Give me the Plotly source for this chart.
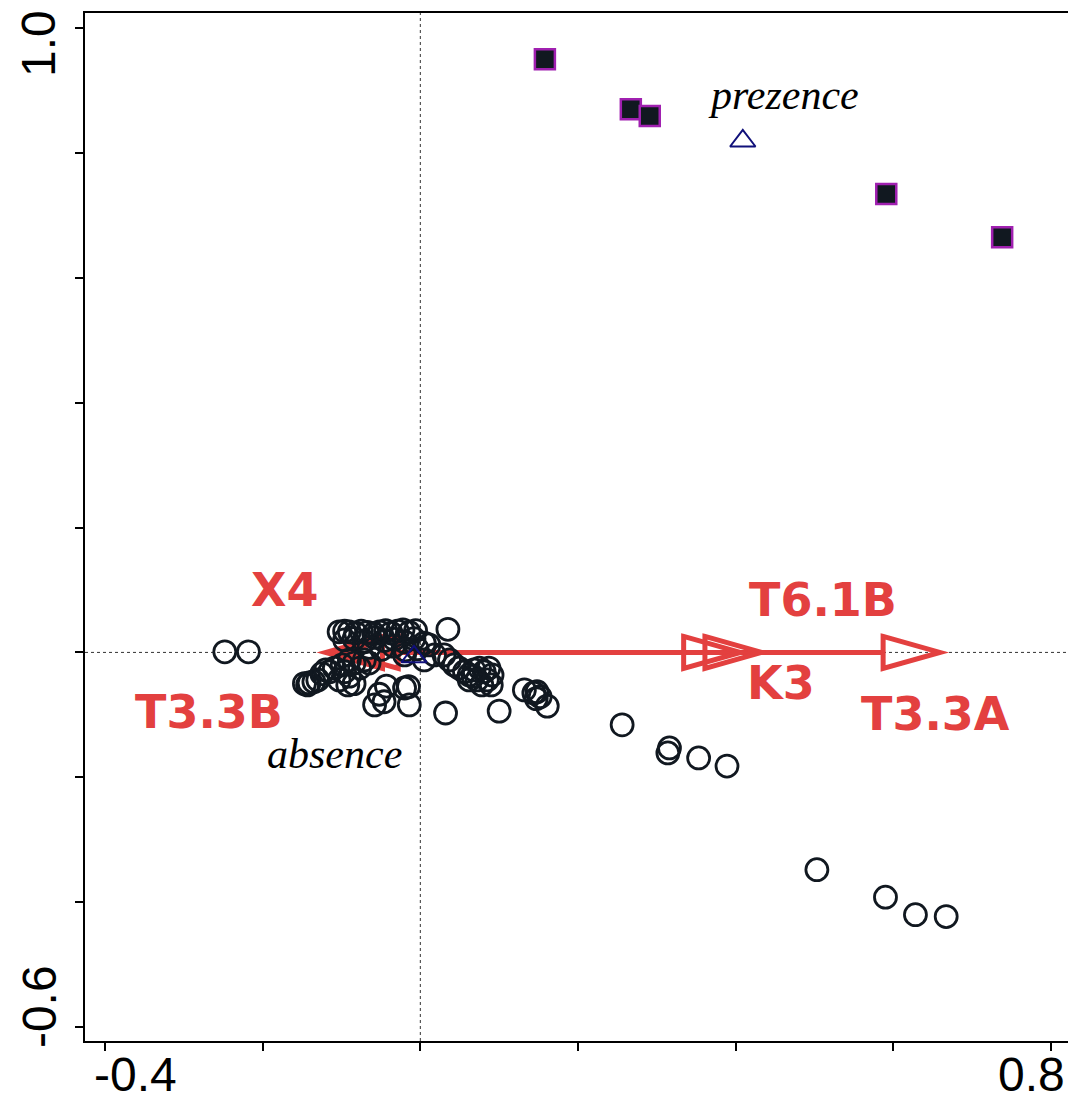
import plotly.graph_objects as go

# ---------------- data ----------------
x_ticks = [-0.4, -0.2, 0.0, 0.2, 0.4, 0.6, 0.8]
y_ticks = [-0.6, -0.4, -0.2, 0.0, 0.2, 0.4, 0.6, 0.8, 1.0]
x_tick_labels = {-0.4: "-0.4", 0.8: "0.8"}
y_tick_labels = {1.0: "1.0", -0.6: "-0.6"}

# sample scores (open circles)
circ_x = [
    -0.248, -0.218, 0.035, 0.032, 0.100, 0.256, 0.316, 0.314, 0.353, 0.389, 0.503, 0.590, 0.628, 0.667,
    0.132, 0.144, 0.148, 0.152, 0.161, 0.147,
    -0.103, -0.096, -0.090, -0.082, -0.075, -0.067, -0.059, -0.052, -0.044, -0.037, -0.029, -0.022, -0.014, -0.006,
    -0.096, -0.084, -0.071, -0.058, -0.046, -0.033, -0.020, -0.008, 0.005,
    -0.065, -0.049, -0.034, -0.019, -0.004, 0.011,
    0.018, 0.030, 0.037, 0.005, -0.020,
    0.043, 0.049, 0.056, 0.062, 0.068, 0.075, 0.081, 0.087, 0.091, 0.085, 0.072, 0.062, 0.078, 0.090, 0.067,
    -0.109, -0.099, -0.090, -0.084, -0.077, -0.096, -0.090, -0.103, -0.084, -0.092, -0.071, -0.065, -0.115,
    -0.147, -0.143, -0.141, -0.135, -0.130, -0.125, -0.120,
    -0.058, -0.052, -0.043, -0.046, -0.020, -0.014, -0.015,
]
circ_y = [
    0.001, 0.001, 0.037, -0.097, -0.094, -0.116, -0.153, -0.161, -0.169, -0.182, -0.348, -0.392, -0.420, -0.423,
    -0.060, -0.065, -0.063, -0.071, -0.086, -0.074,
    0.033, 0.034, 0.033, 0.031, 0.034, 0.032, 0.030, 0.033, 0.035, 0.031, 0.034, 0.036, 0.032, 0.035,
    0.020, 0.022, 0.018, 0.024, 0.019, 0.021, 0.017, 0.022, 0.015,
    0.008, 0.005, 0.010, 0.004, 0.006, 0.012,
    -0.004, -0.004, -0.012, -0.012, -0.004,
    -0.020, -0.025, -0.031, -0.036, -0.028, -0.025, -0.031, -0.025, -0.036, -0.044, -0.044, -0.044, -0.052, -0.052, -0.038,
    -0.025, -0.020, -0.012, -0.017, -0.025, -0.031, -0.038, -0.044, -0.050, -0.052, -0.012, -0.017, -0.031,
    -0.050, -0.052, -0.049, -0.047, -0.044, -0.034, -0.028,
    -0.084, -0.067, -0.054, -0.079, -0.057, -0.084, -0.055,
]

# highlighted samples (filled squares)
sq_x = [0.158, 0.267, 0.291, 0.591, 0.738]
sq_y = [0.950, 0.870, 0.859, 0.734, 0.665]

# centroids of nominal variable
cent_names = ["prezence", "absence"]
cent_x = [0.409, -0.008]
cent_y = [0.819, -0.007]

# environmental arrows (x, y tip coordinates)
arrow_names = ["T3.3A", "T6.1B", "K3", "X4", "T3.3B"]
arrow_x = [0.659, 0.433, 0.406, -0.120, -0.100]
arrow_y = [0.0, 0.0, 0.0, 0.0, 0.0]

# ---------------- style / layout ----------------
RED = "#E3403F"
DARK = "#111820"
X_RANGE = [-0.4253, 0.8253]
Y_RANGE = [-0.6223, 1.0240]
HEAD_LEN = 0.072     # arrowhead length (x units)
HEAD_HW = 0.0256     # arrowhead half width (y units)

arrow_label_pos = {
    "T3.3A": (0.653, -0.099),
    "T6.1B": (0.511, 0.084),
    "K3": (0.458, -0.049),
    "X4": (-0.172, 0.100),
    "T3.3B": (-0.268, -0.095),
}
cent_label_pos = {"prezence": (0.461, 0.893), "absence": (-0.109, -0.163)}

fig = go.Figure()

shapes = []
# zero reference lines
shapes.append(dict(type="line", xref="x", yref="paper", x0=0, x1=0, y0=0, y1=1,
                   line=dict(color="#333333", width=1, dash="dot"), layer="below"))
shapes.append(dict(type="line", xref="paper", yref="y", x0=0, x1=1, y0=0, y1=0,
                   line=dict(color="#333333", width=1, dash="dot"), layer="below"))

for nm, ax, ay in zip(arrow_names, arrow_x, arrow_y):
    sgn = 1 if ax >= 0 else -1
    bx = ax - sgn * HEAD_LEN
    shapes.append(dict(type="line", xref="x", yref="y", x0=0, y0=0, x1=bx, y1=ay,
                       line=dict(color=RED, width=5), layer="below"))
    path = f"M {bx},{ay + HEAD_HW} L {ax},{ay} L {bx},{ay - HEAD_HW} Z"
    shapes.append(dict(type="path", xref="x", yref="y", path=path,
                       line=dict(color=RED, width=5), fillcolor="rgba(0,0,0,0)", layer="below"))

fig.add_trace(go.Scatter(
    x=circ_x, y=circ_y, mode="markers", name="samples",
    marker=dict(symbol="circle-open", size=22, color=DARK, line=dict(width=2.8, color=DARK)),
    showlegend=False, hoverinfo="x+y"))

fig.add_trace(go.Scatter(
    x=cent_x, y=cent_y, mode="markers", name="centroids",
    marker=dict(symbol="triangle-up-open", size=22, color="#10107A", line=dict(width=2, color="#10107A")),
    showlegend=False))

fig.add_trace(go.Scatter(
    x=sq_x, y=sq_y, mode="markers", name="highlighted",
    marker=dict(symbol="square", size=20, color=DARK, line=dict(width=2.5, color="#A020B0")),
    showlegend=False))

annotations = []
for nm in arrow_names:
    px_, py_ = arrow_label_pos[nm]
    annotations.append(dict(x=px_, y=py_, xref="x", yref="y", text=f"<b>{nm}</b>", showarrow=False,
                            font=dict(family="DejaVu Sans, Liberation Sans, Arial", size=46, color=RED),
                            xanchor="center", yanchor="middle"))
for nm in cent_names:
    px_, py_ = cent_label_pos[nm]
    annotations.append(dict(x=px_, y=py_, xref="x", yref="y", text=f"<i>{nm}</i>", showarrow=False,
                            font=dict(family="Liberation Serif, Times New Roman, serif", size=42, color="black"),
                            xanchor="center", yanchor="middle"))

# axis end labels (placed inward like the original)
x_shift = {-0.4: 31, 0.8: -20}
for v, t in x_tick_labels.items():
    annotations.append(dict(x=v, y=0, xref="x", yref="paper", text=t, showarrow=False,
                            xshift=x_shift[v], yshift=-33, xanchor="center", yanchor="middle",
                            font=dict(family="Liberation Sans, Arial", size=48, color="black")))
y_shift = {1.0: -16, -0.6: 20}
for v, t in y_tick_labels.items():
    annotations.append(dict(x=0, y=v, xref="paper", yref="y", text=t, showarrow=False, textangle=-90,
                            xshift=-46, yshift=y_shift[v], xanchor="center", yanchor="middle",
                            font=dict(family="Liberation Sans, Arial", size=48, color="black")))

axis_common = dict(showgrid=False, zeroline=False, showline=True, mirror=True, linecolor="black",
                   linewidth=2, ticks="outside", ticklen=8, tickwidth=2, tickcolor="black",
                   showticklabels=False)

# the page body adds an 8 px offset, so the figure is drawn 8 px smaller/shifted
fig.update_layout(
    width=1068, height=1093,
    margin=dict(l=77, r=3, t=5, b=60),
    paper_bgcolor="white", plot_bgcolor="white",
    xaxis=dict(range=X_RANGE, tickvals=x_ticks, **axis_common),
    yaxis=dict(range=Y_RANGE, tickvals=y_ticks, **axis_common),
    shapes=shapes, annotations=annotations, showlegend=False,
)

fig.write_html("out.html")
